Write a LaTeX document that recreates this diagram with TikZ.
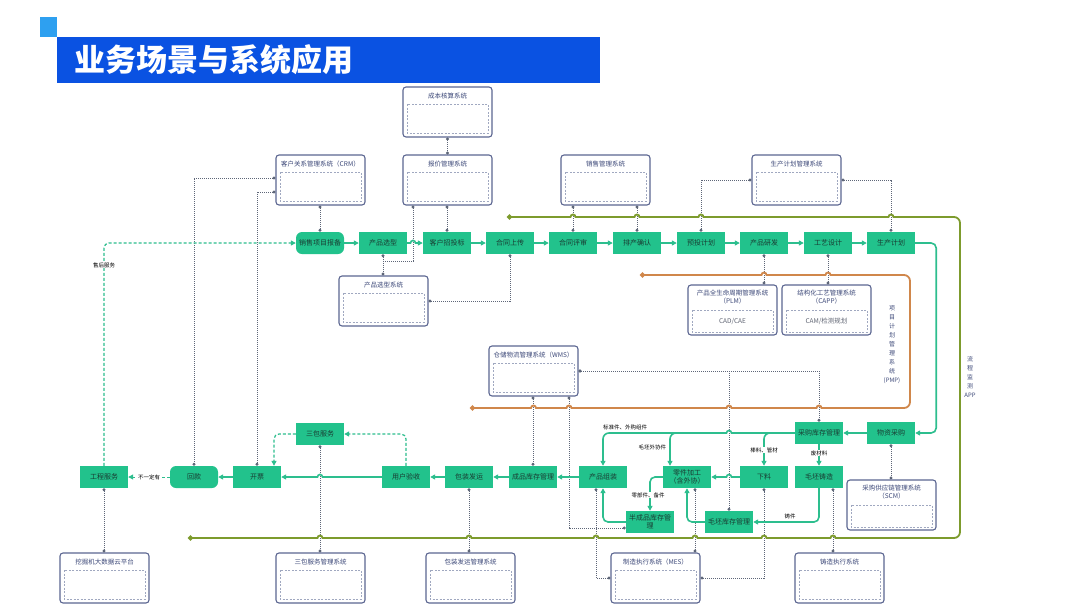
\documentclass[tikz,border=0pt]{standalone}
\usepackage{fontspec}
\setmainfont{Noto Sans CJK SC}
\usetikzlibrary{arrows.meta,calc}
\definecolor{titleblue}{RGB}{10,82,226}
\definecolor{sqblue}{RGB}{46,160,240}
\definecolor{gfill}{RGB}{34,194,140}
\definecolor{gtext}{RGB}{25,60,50}
\definecolor{gline}{RGB}{45,190,142}
\definecolor{sysc}{RGB}{92,102,145}
\definecolor{systxt}{RGB}{60,72,120}
\definecolor{innc}{RGB}{160,168,192}
\definecolor{linkc}{RGB}{94,102,120}
\definecolor{orline}{RGB}{208,135,75}
\definecolor{olline}{RGB}{125,155,45}
\tikzset{
  gnode/.style={fill=gfill, text=gtext, minimum width=48pt, minimum height=22pt, inner sep=0pt, font=\fontsize{7}{8}\selectfont, align=center},
  gnoder/.style={gnode, rounded corners=6pt},
  sysbx/.style={draw=sysc, line width=1.1pt, rounded corners=3pt, fill=white, minimum width=89pt, minimum height=50pt, inner sep=0pt},
  systt/.style={text=systxt, font=\fontsize{6.5}{8}\selectfont, align=center, inner sep=0pt},
  innerd/.style={draw=innc, line width=0.6pt, dash pattern=on 2pt off 1.5pt},
  flowln/.style={draw=gline, line width=1.6pt, rounded corners=5pt, -{Triangle[length=5pt,width=5pt]}},
  dashln/.style={flowln, line width=1.2pt, dash pattern=on 3pt off 2pt},
  linkln/.style={draw=linkc, line width=0.8pt, dash pattern=on 1pt off 1pt},
  ends/.style={arrows={Circle[length=3pt]-Circle[length=3pt]}},
  endA/.style={arrows={Circle[length=3pt]-}},
  busor/.style={draw=orline, line width=1.8pt, arrows={Circle[length=5pt]-Circle[length=5pt]}},
  busol/.style={draw=olline, line width=1.8pt, arrows={Circle[length=5pt]-Circle[length=5pt]}},
  lbl/.style={font=\fontsize{5.5}{6.5}\selectfont, text=black, inner sep=0.8pt},
  vlbl/.style={font=\fontsize{6}{9}\selectfont, text=systxt, align=center, inner sep=0pt},
}
\newcommand\mysys[4]{%
  \node[sysbx] (#1) at ({#2+44.5},{#3+25}) {};
  \node[systt] (#1t) at ({#2+44.5},{#3+9}) {#4};
  \draw[innerd] ({#2+4},{#3+17}) rectangle ({#2+85},{#3+46});
}
\newcommand\mysysb[5]{%
  \node[sysbx] (#1) at ({#2+44.5},{#3+25}) {};
  \node[systt] (#1t) at ({#2+44.5},{#3+12}) {#4};
  \draw[innerd] ({#2+4},{#3+25}) rectangle ({#2+85},{#3+47});
  \node[systt, font=\fontsize{6.5}{8}\selectfont, text=innc!60!black] (#1i) at ({#2+44.5},{#3+36}) {#5};
}
\begin{document}
\begin{tikzpicture}[x=1pt,y=-1pt]
\useasboundingbox[fill=white] (0,0) rectangle (1080,608);

% title
\fill[sqblue] (40,17) rectangle (57,37);
\fill[titleblue] (57,37) rectangle (600,83);
\node[anchor=west, text=white, font=\fontsize{31}{33}\selectfont\bfseries, inner sep=0pt] (title) at (74,60) {业务场景与系统应用};

% systems
\mysys{cb}{403}{87}{成本核算系统}
\mysys{bj}{403}{155}{报价管理系统}
\mysys{crm}{276}{155}{客户关系管理系统（CRM）}
\mysys{xs}{561}{155}{销售管理系统}
\mysys{scjh}{752}{155}{生产计划管理系统}
\mysys{xx}{339}{276}{产品选型系统}
\mysysb{plm}{688}{285}{产品全生命周期管理系统\\（PLM）}{CAD/CAE}
\mysysb{capp}{782}{285}{结构化工艺管理系统\\（CAPP）}{CAM/检测规划}
\mysys{wms}{489}{346}{仓储物流管理系统（WMS）}
\mysysb{scm}{847}{480}{采购供应链管理系统\\（SCM）}{}
\mysys{wj}{60}{553}{挖掘机大数据云平台}
\mysys{sbm}{276}{553}{三包服务管理系统}
\mysys{bzm}{426}{553}{包装发运管理系统}
\mysys{mes}{611}{553}{制造执行系统（MES）}
\mysys{zz}{795}{553}{铸造执行系统}

% process nodes
\node[gnoder] (p1) at (320,243) {销售项目报备};
\node[gnode] (p2) at (383,243) {产品选型};
\node[gnode] (p3) at (447,243) {客户招投标};
\node[gnode] (p4) at (510,243) {合同上传};
\node[gnode] (p5) at (573,243) {合同评审};
\node[gnode] (p6) at (637,243) {排产确认};
\node[gnode] (p7) at (701,243) {预投计划};
\node[gnode] (p8) at (764,243) {产品研发};
\node[gnode] (p9) at (828,243) {工艺设计};
\node[gnode] (p10) at (891,243) {生产计划};
\node[gnode] (q1) at (891,433) {物资采购};
\node[gnode] (q2) at (819,433) {采购库存管理};
\node[gnode] (sanbao) at (320,434) {三包服务};
\node[gnode] (b1) at (104,477) {工程服务};
\node[gnoder] (b2) at (194,477) {回款};
\node[gnode] (b3) at (257,477) {开票};
\node[gnode] (b4) at (406,477) {用户验收};
\node[gnode] (b5) at (469,477) {包装发运};
\node[gnode] (b6) at (533,477) {成品库存管理};
\node[gnode] (b7) at (603,477) {产品组装};
\node[gnode] (b8) at (687,477) {零件加工\\（含外协）};
\node[gnode] (b9) at (764,477) {下料};
\node[gnode] (b10) at (819,477) {毛坯铸造};
\node[gnode] (b11) at (650,522) {半成品库存管\\理};
\node[gnode] (b12) at (729,522) {毛坯库存管理};

% vertical labels
\node[vlbl] (pmp) at (892,345) {项\\目\\计\\划\\管\\理\\系\\统\\(PMP)};
\node[vlbl] (app) at (970,377) {流\\程\\监\\测\\APP};

% helper coordinates
\coordinate (jx) at (383,261);
\coordinate (bjx) at ([xshift=-34.5pt]bj.south);
\coordinate (crm1) at ([yshift=2pt]crm.west);
\coordinate (crm2) at ([yshift=-12pt]crm.west);
\coordinate (wmsb) at ([xshift=35.5pt]wms.south);
\coordinate (b11w) at ([yshift=-6pt]b11.west);
\coordinate (b7s) at ([xshift=-7pt]b7.south);
\coordinate (b8s) at ([xshift=8pt]b8.south);
\coordinate (b10s) at ([xshift=14pt]b10.south);
\coordinate (b8n) at ([xshift=-17pt]b8.north);
\coordinate (b3n) at ([xshift=17pt]b3.north);
\coordinate (j8) at (678,433);
\coordinate (j9) at (775,433);
\coordinate (olA) at (507,217);
\coordinate (olB) at (188,538);
\coordinate (orA) at (640,275);
\coordinate (orB) at (470,408);

% system links
\draw[linkln,ends] (cb.south) -- (bj.north);
\draw[linkln,ends] (p3.north |- bj.south) -- (p3.north);
\draw[linkln,endA] (bjx) |- (jx);
\draw[linkln,ends] (p2.south) -- (p2.south |- xx.north);
\draw[linkln,ends] (xx.east) -| (p4.south);
\draw[linkln,ends] (p1.north |- crm.south) -- (p1.north);
\draw[linkln,ends] (crm1) -| (b2.north);
\draw[linkln,ends] (crm2) -| (b3.north);
\draw[linkln,ends] (p5.north |- xs.south) -- (p5.north);
\draw[linkln,ends] (p6.north |- xs.south) -- (p6.north);
\draw[linkln,ends] (scjh.west) -| (p7.north);
\draw[linkln,ends] (scjh.east) -| (p10.north);
\draw[linkln,ends] (p8.south) -- (p8.south |- plm.north);
\draw[linkln,ends] (p9.south) -- (p9.south |- capp.north);
\draw[linkln,ends] (wms.east) -| (q2.north);
\draw[linkln,ends] (wms.east) -| (b12.north);
\draw[linkln,ends] (b6.north |- wms.south) -- (b6.north);
\draw[linkln,ends] (wmsb) |- (b11w);
\draw[linkln,ends] (mes.west) -| (b7s);
\draw[linkln,ends] (mes.east) -| (b9.south);
\draw[linkln,ends] (b8s) -- (b8s |- mes.north);
\draw[linkln,ends] (b10s) -- (b10s |- zz.north);
\draw[linkln,ends] (b5.south) -- (b5.south |- bzm.north);
\draw[linkln,ends] (sanbao.south) -- (sanbao.south |- sbm.north);
\draw[linkln,ends] (b1.south) -- (b1.south |- wj.north);
\draw[linkln,ends] (q1.south) -- (q1.south |- scm.north);

% bus lines
\draw[busol] (olA) -- (570.5,217) arc[start angle=180,end angle=0,radius=2.5pt]
  -- (634.5,217) arc[start angle=180,end angle=0,radius=2.5pt]
  -- (698.5,217) arc[start angle=180,end angle=0,radius=2.5pt]
  -- (888.5,217) arc[start angle=180,end angle=0,radius=2.5pt]
  -- (954,217) arc[start angle=90,end angle=0,radius=6pt]
  -- (960,532) arc[start angle=0,end angle=-90,radius=6pt]
  -- (835.5,538) arc[start angle=0,end angle=180,radius=2.5pt]
  -- (766.5,538) arc[start angle=0,end angle=180,radius=2.5pt]
  -- (697.5,538) arc[start angle=0,end angle=180,radius=2.5pt]
  -- (598.5,538) arc[start angle=0,end angle=180,radius=2.5pt]
  -- (471.5,538) arc[start angle=0,end angle=180,radius=2.5pt]
  -- (322.5,538) arc[start angle=0,end angle=180,radius=2.5pt]
  -- (olB);
\draw[busor] (orA) -- (761.5,275) arc[start angle=180,end angle=0,radius=2.5pt]
  -- (825.5,275) arc[start angle=180,end angle=0,radius=2.5pt]
  -- (904,275) arc[start angle=90,end angle=0,radius=6pt]
  -- (910,402) arc[start angle=0,end angle=-90,radius=6pt]
  -- (821.5,408) arc[start angle=0,end angle=180,radius=2.5pt]
  -- (731.5,408) arc[start angle=0,end angle=180,radius=2.5pt]
  -- (571.5,408) arc[start angle=0,end angle=180,radius=2.5pt]
  -- (536,408) arc[start angle=0,end angle=180,radius=2.5pt]
  -- (orB);

% process flow
\draw[flowln] (p1.east) -- (p2.west);
\draw[flowln, sharp corners] (p2.east) -- (410.5,243) arc[start angle=180,end angle=0,radius=2.5pt] -- (p3.west);
\draw[flowln] (p3.east) -- (p4.west);
\draw[flowln] (p4.east) -- (p5.west);
\draw[flowln] (p5.east) -- (p6.west);
\draw[flowln] (p6.east) -- (p7.west);
\draw[flowln] (p7.east) -- (p8.west);
\draw[flowln] (p8.east) -- (p9.west);
\draw[flowln] (p9.east) -- (p10.west);
\draw[flowln] (p10.east) -- ++(21,0) |- (q1.east);
\draw[flowln] (q1.west) -- (q2.east);
\draw[flowln, sharp corners] (q2.west) -- (731.5,433) arc[start angle=0,end angle=180,radius=2.5pt]
  -- (609,433) arc[start angle=90,end angle=180,radius=6pt] -- (b7.north);
\draw[flowln, sharp corners] (j8) -- (676,433) arc[start angle=90,end angle=180,radius=6pt] -- (b8n);
\draw[flowln, sharp corners] (j9) -- (770,433) arc[start angle=90,end angle=180,radius=6pt] -- (b9.north);
\draw[flowln] (q2.south) -- (b10.north);
\draw[flowln, sharp corners] (b9.west) -- (731.5,477) arc[start angle=0,end angle=180,radius=2.5pt] -- (b8.east);
\draw[flowln] (b10.south) |- (b12.east);
\draw[flowln] (b12.west) -| (b8.south);
\draw[flowln] (b8.west) -| (b11.north);
\draw[flowln] (b11.west) -| (b7.south);
\draw[flowln] (b7.west) -- (b6.east);
\draw[flowln] (b6.west) -- (b5.east);
\draw[flowln] (b5.west) -- (b4.east);
\draw[flowln, sharp corners] (b4.west) -- (322.5,477) arc[start angle=0,end angle=180,radius=2.5pt] -- (b3.east);
\draw[flowln] (b3.west) -- (b2.east);
\draw[dashln, line width=0.9pt] (b2.west) -- (b1.east);
\draw[dashln] (b4.north) |- (sanbao.east);
\draw[dashln] (sanbao.west) -| (b3n);
\draw[dashln] (b1.north) |- (p1.west);

% labels
\node[lbl] (l1) at (625,427) {标准件、外购组件};
\node[lbl, anchor=east] (l2) at (667,447) {毛坯外协件};
\node[lbl, fill=white] (l3) at (764,450) {棒料、管材};
\node[lbl, fill=white] (l4) at (819,453) {废材料};
\node[lbl, fill=white] (l5) at (648,495) {零部件、备件};
\node[lbl] (l6) at (790,516) {铸件};
\node[lbl, fill=white] (l7) at (149,477) {不一定有};
\node[lbl, fill=white] (l8) at (104,265) {售后服务};
\end{tikzpicture}
\end{document}
